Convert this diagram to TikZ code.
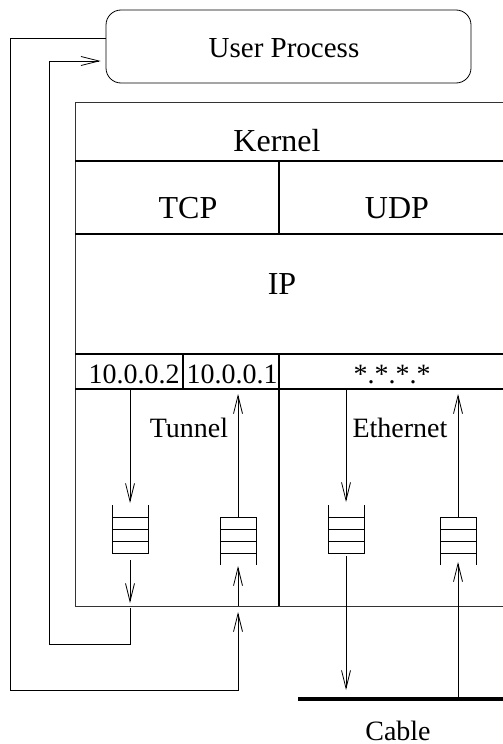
\documentclass[tikz,border=0pt]{standalone}
\usepackage{fontspec}
\setmainfont{Liberation Serif}
\usetikzlibrary{arrows.meta,calc}

\tikzset{
  wire/.style={line width=0.8pt},
  flow/.style={wire,-{Straight Barb[length=18pt,width=9pt,line width=0.8pt]}},
  frame/.style={line width=0.8pt,draw=black!80},
  divider/.style={line width=1.4pt},
  lbl/.style={anchor=base,inner sep=0pt,font=\fontsize{28}{30}\selectfont},
  biglbl/.style={lbl,font=\fontsize{32}{34}\selectfont},
  proc/.style={draw,line width=0.8pt,rounded corners=15pt,minimum width=365pt,
               minimum height=73pt,inner sep=0pt},
  qbox/.style={minimum width=36pt,minimum height=48pt,inner sep=0pt,outer sep=0pt},
}

% queue with the open end on top (packets fall in from above)
\newcommand\drawqueuedown[1]{%
  \draw[wire] (#1.north west) -- (#1.south west) -- (#1.south east) -- (#1.north east);
  \foreach \f in {0.25,0.5,0.75}
    \draw[wire] ($(#1.north west)!\f!(#1.south west)$) -- ($(#1.north east)!\f!(#1.south east)$);}
% queue with the open end at the bottom (packets rise in from below)
\newcommand\drawqueueup[1]{%
  \draw[wire] (#1.south west) -- (#1.north west) -- (#1.north east) -- (#1.south east);
  \foreach \f in {0.25,0.5,0.75}
    \draw[wire] ($(#1.north west)!\f!(#1.south west)$) -- ($(#1.north east)!\f!(#1.south east)$);}

\begin{document}
\begin{tikzpicture}[x=1pt,y=-1pt]
  \clip (0,0) rectangle (503,744);

  % user process
  \node[proc] (up) at (288.5,46.5) {};
  \node[lbl,font=\fontsize{29}{31}\selectfont] (uplbl) at (284,57) {User Process};

  % kernel frame and its layers
  \draw[frame] (75,102) rectangle (530,606);
  \draw[divider] (75,161) -- (530,161);
  \draw[divider] (279,161) -- (279,234);
  \draw[divider] (75,234) -- (530,234);
  \draw[divider] (75,354) -- (530,354);
  \draw[divider] (183,354) -- (183,389);
  \draw[divider] (75,389) -- (530,389);
  \draw[divider] (279,354) -- (279,606);

  \node[biglbl] (kernel) at (277,151) {Kernel};
  \node[biglbl] (tcp) at (188,218) {TCP};
  \node[biglbl] (udp) at (397,218) {UDP};
  \node[biglbl] (ip) at (282,294) {IP};
  \node[lbl] (a1) at (134,383) {10.0.0.2};
  \node[lbl] (a2) at (232,383) {10.0.0.1};
  \node[lbl] (a3) at (392,383) {*.*.*.*};
  \node[lbl] (tunnel) at (189,437) {Tunnel};
  \node[lbl] (ether) at (400,437) {Ethernet};

  % ports on the address row and on the kernel floor
  \coordinate (p1) at (130,389);
  \coordinate (p2) at (238,389);
  \coordinate (p3) at (346,389);
  \coordinate (p4) at (458,389);
  \coordinate (k1) at (130,606);
  \coordinate (k2) at (238,606);

  % queues
  \node[qbox] (q1) at (130,529) {};
  \node[qbox] (q2) at (238,541) {};
  \node[qbox] (q3) at (346,529) {};
  \node[qbox] (q4) at (458,541) {};
  \drawqueuedown{q1}
  \drawqueueup{q2}
  \drawqueuedown{q3}
  \drawqueueup{q4}

  % cable
  \coordinate (cw) at (298,699);
  \coordinate (ce) at (530,699);
  \coordinate (c3) at (346,699);
  \coordinate (c4) at (458,699);
  \draw[line width=4.5pt] (cw) -- (ce);
  \node[lbl] (cable) at (398,740) {Cable};

  % tunnel: outgoing side
  \draw[flow,shorten >=2pt] (p1) -- (q1.north);
  \draw[flow,shorten <=7pt,shorten >=3pt] (q1.south) -- (k1);
  \draw[flow,shorten <=2pt,shorten >=5pt] (k1) -- (130,644) -- (49,644) -- (49,61)
        -- ([yshift=-14.5pt]up.west);

  % tunnel: incoming side
  \draw[flow,shorten >=6pt] ([yshift=8.5pt]up.west) -- (10,38) -- (10,690) -- (238,690) -- (k2);
  \draw[flow,shorten >=1pt] (k2) -- (q2.south);
  \draw[flow,shorten >=5pt] (q2.north) -- (p2);

  % ethernet
  \draw[flow,shorten >=3pt] (p3) -- (q3.north);
  \draw[flow,shorten <=3pt,shorten >=9pt] (q3.south) -- (c3);
  \draw[flow,shorten >=-3pt] (c4) -- (q4.south);
  \draw[flow,shorten >=5pt] (q4.north) -- (p4);
\end{tikzpicture}
\end{document}
